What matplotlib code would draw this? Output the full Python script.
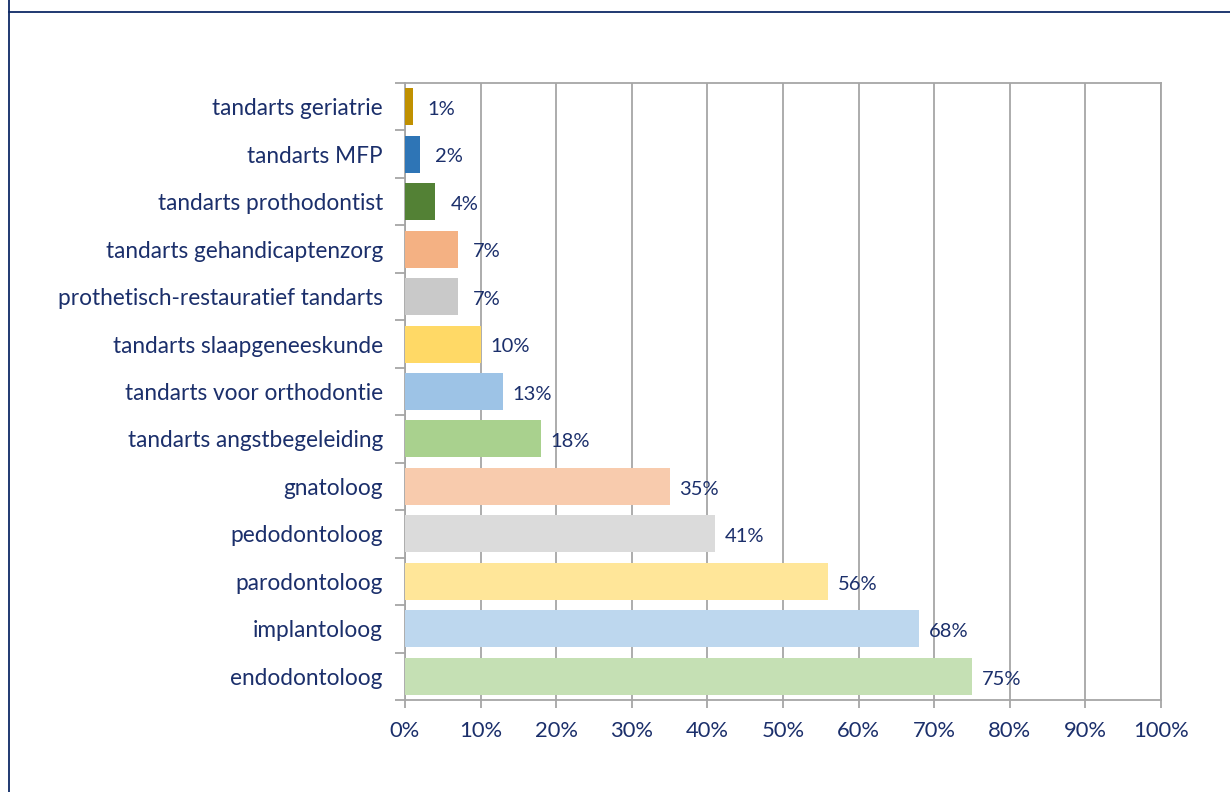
# Horizontale staafgrafiek: percentage per type tandarts / specialist
import matplotlib.pyplot as plt
from matplotlib.lines import Line2D

categorieen = ['tandarts geriatrie', 'tandarts MFP', 'tandarts prothodontist',
               'tandarts gehandicaptenzorg', 'prothetisch-restauratief tandarts',
               'tandarts slaapgeneeskunde', 'tandarts voor orthodontie',
               'tandarts angstbegeleiding', 'gnatoloog', 'pedodontoloog',
               'parodontoloog', 'implantoloog', 'endodontoloog']
percentages = [1, 2, 4, 7, 7, 10, 13, 18, 35, 41, 56, 68, 75]
kleuren = ['#C09000', '#2E75B6', '#538135', '#F4B183', '#C9C9C9', '#FFD966',
           '#9DC3E6', '#A9D18E', '#F8CBAD', '#DBDBDB', '#FFE699', '#BDD7EE',
           '#C5E0B4']
tick_labels = ['0%', '10%', '20%', '30%', '40%', '50%', '60%', '70%', '80%', '90%', '100%']

navy = '#1B2F6B'
grijs = '#A6A6A6'
plt.rcParams['font.family'] = ['Lato', 'DejaVu Sans']

fig = plt.figure(figsize=(12.3, 7.92), dpi=100)
ax = fig.add_axes([405 / 1230, 1 - 700 / 792, 756 / 1230, 617 / 792])

# bovenste categorie bovenaan
posities = list(range(len(categorieen)))[::-1]
ax.barh(posities, percentages, height=0.78, color=kleuren, zorder=3)

for p, v in zip(posities, percentages):
    ax.annotate(f'{v}%', (v, p), xytext=(21, -2), textcoords='offset points',
                ha='center', va='center', fontsize=14.5, color=navy, zorder=4)

ax.set_xlim(0, 100)
ax.set_ylim(-0.5, len(categorieen) - 0.5)
ax.set_xticks(range(0, 101, 10))
ax.set_xticklabels(tick_labels)
ax.set_yticks(posities)
ax.set_yticklabels(categorieen)
ax.set_yticks([i - 0.5 for i in range(len(categorieen) + 1)], minor=True)

ax.grid(axis='x', color=grijs, linewidth=1.3, zorder=0)
ax.tick_params(axis='x', colors=grijs, labelcolor=navy, labelsize=15.8,
               length=6, width=1.3, pad=9)
ax.tick_params(axis='y', which='major', length=0, labelcolor=navy,
               labelsize=16.3, pad=16)
ax.tick_params(axis='y', which='minor', length=7, width=1.3, colors=grijs)
for kant in ax.spines.values():
    kant.set_color(grijs)
    kant.set_linewidth(1.3)

# donkerblauwe kaderlijnen van de dia
fig.add_artist(Line2D([9 / 1230, 9 / 1230], [0, 1], color='#0E2A66', linewidth=1.3))
fig.add_artist(Line2D([9 / 1230, 1], [1 - 12 / 792, 1 - 12 / 792], color='#0E2A66', linewidth=1.3))

fig.savefig('out.png', dpi=100)
